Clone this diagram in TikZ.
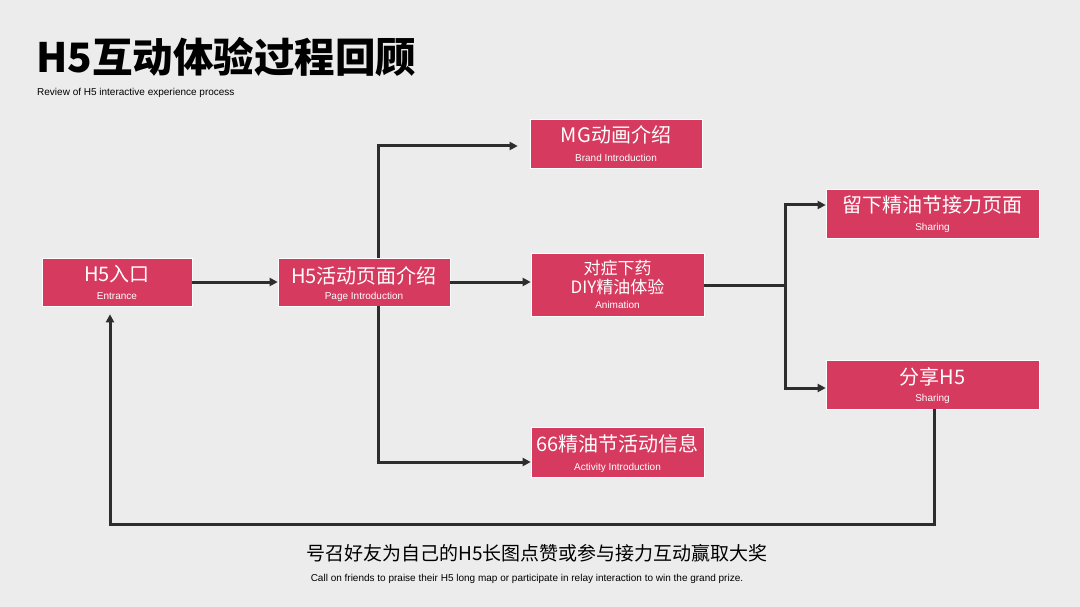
\documentclass[tikz,border=0pt]{standalone}
\usepackage{fontspec}
\setmainfont{Noto Sans CJK SC}
\newfontfamily\lat{Liberation Sans}
\usetikzlibrary{arrows.meta}
\definecolor{boxc}{RGB}{214,58,94}
\definecolor{bgc}{RGB}{236,236,236}
\definecolor{linec}{RGB}{45,45,45}
\tikzset{
 box/.style={fill=boxc,draw=white,line width=0.6pt,inner sep=0pt,text=white,align=center},
 conn/.style={draw=linec,line width=3pt,-{Triangle[length=8pt,width=8pt]}},
 main/.style={font=\fontsize{20}{22}\selectfont},
 sub/.style={font=\lat\fontsize{10}{11}\selectfont}
}
\begin{document}
\begin{tikzpicture}[x=1pt,y=-1pt]
\fill[bgc] (0,0) rectangle (1080,607);
\useasboundingbox (0,0) rectangle (1080,607);
\node[anchor=west,inner sep=0pt,font=\bfseries\fontsize{40.5}{42}\selectfont] (title) at (36,57) {H5互动体验过程回顾};
\node[anchor=west,inner sep=0pt,sub] (subt) at (37,93) {Review of H5 interactive experience process};

\node[box,minimum width=150pt,minimum height=48pt] (entr) at (117,282) {};
\node[main,text=white] at (117,274) {H5入口};
\node[sub,text=white] at (117,296) {Entrance};

\node[box,minimum width=172pt,minimum height=48pt] (page) at (364,282) {};
\node[main,text=white] at (364,276) {H5活动页面介绍};
\node[sub,text=white] at (364,297) {Page Introduction};

\node[box,minimum width=172pt,minimum height=49pt] (mg) at (616,143.5) {};
\node[main,text=white] at (616,135) {MG动画介绍};
\node[sub,text=white] at (616,158) {Brand Introduction};

\node[box,minimum width=173pt,minimum height=63pt] (diy) at (617.5,284.5) {};
\node[font=\fontsize{17}{19}\selectfont,text=white] at (617.5,268) {对症下药};
\node[font=\fontsize{17}{19}\selectfont,text=white] at (617.5,287) {DIY精油体验};
\node[sub,text=white] at (617.5,305) {Animation};

\node[box,minimum width=173pt,minimum height=50pt] (act) at (617.5,452) {};
\node[main,text=white] at (617.5,444) {66精油节活动信息};
\node[sub,text=white] at (617.5,468) {Activity Introduction};

\node[box,minimum width=213pt,minimum height=49pt] (relay) at (932.5,213.5) {};
\node[main,text=white] at (932.5,205) {留下精油节接力页面};
\node[sub,text=white] at (932.5,228) {Sharing};

\node[box,minimum width=213pt,minimum height=49pt] (share) at (932.5,384.5) {};
\node[main,text=white] at (932.5,377) {分享H5};
\node[sub,text=white] at (932.5,399) {Sharing};

\coordinate (pu) at (378,146);
\coordinate (pd) at (378,462);
\coordinate (sj) at (785,285);
\coordinate (su) at (785,205);
\coordinate (sd) at (785,388);
\coordinate (b1) at (934,524);
\coordinate (b2) at (110,524);

\draw[conn] (entr) -- (page);
\draw[conn] (page.east) -- (diy.west|-page.east);
\draw[conn] (page.north-|pu) -- (pu) -- ([xshift=-12pt]mg.west|-pu);
\draw[conn] (page.south-|pd) -- (pd) -- (act.west|-pd);
\draw[draw=linec,line width=3pt] (diy.east|-sj) -- (sj);
\draw[conn] (sj) -- (su) -- (relay.west|-su);
\draw[conn] (sj) -- (sd) -- (share.west|-sd);
\draw[conn] (share.south-|b1) -- (b1) -- (b2) -- ([yshift=-8pt]entr.south-|b2);

\node[font=\fontsize{19}{21}\selectfont] (call) at (537,553) {号召好友为自己的H5长图点赞或参与接力互动赢取大奖};
\node[sub] (callen) at (527,579) {Call on friends to praise their H5 long map or participate in relay interaction to win the grand prize.};
\end{tikzpicture}
\end{document}
